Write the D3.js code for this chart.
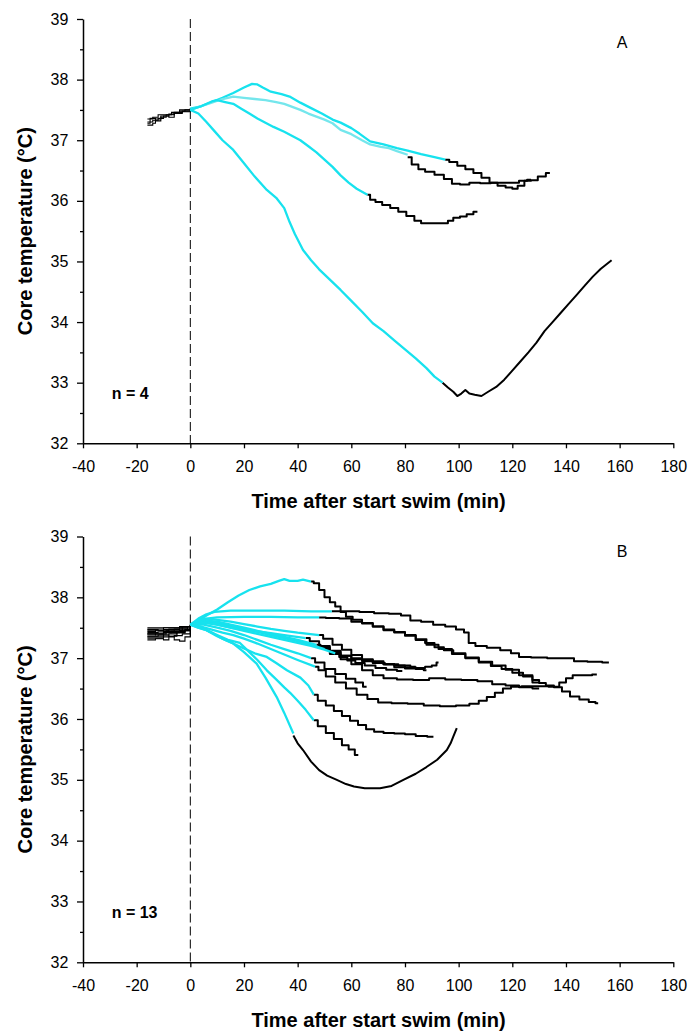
<!DOCTYPE html>
<html>
<head>
<meta charset="utf-8">
<script src="https://cdn.jsdelivr.net/npm/d3@7"></script>
<style>
  html, body { margin: 0; padding: 0; background: #fff; }
  svg { display: block; }
  text { font-family: Arial, "Liberation Sans", sans-serif; fill: #000; }
</style>
</head>
<body>
<script>
// ---------------- DATA ----------------
const xTicks = [-40, -20, 0, 20, 40, 60, 80, 100, 120, 140, 160, 180];
const yTicks = [32, 33, 34, 35, 36, 37, 38, 39];
const yMinorTicks = [32.5, 33.5, 34.5, 35.5, 36.5, 37.5, 38.5];

// Panel A: pre-swim (black), swim (cyan), post-swim (black); [time min, core temp °C]
const A_pre = [
  [[-16,37.3],[-14,37.33],[-12,37.36],[-10,37.4],[-8,37.43],[-6,37.45],[-4,37.48],[-2,37.5],[0,37.52]],
  [[-16,37.25],[-14,37.28],[-13,37.35],[-11,37.38],[-9,37.42],[-6,37.44],[-3,37.48],[0,37.5]],
  [[-16,37.35],[-14,37.38],[-12,37.42],[-9,37.42],[-7,37.46],[-4,37.5],[-2,37.5],[0,37.53]],
  [[-16,37.28],[-15,37.36],[-13,37.32],[-11,37.4],[-8,37.38],[-6,37.46],[-3,37.47],[0,37.5]]
];
const A_swim = [
  [[0,37.52],[4,37.56],[8,37.63],[12,37.7],[16,37.78],[20,37.87],[23,37.93],[25,37.92],[27,37.87],[30,37.8],[34,37.76],[37,37.72],[41,37.62],[45,37.53],[49,37.44],[53,37.34],[56,37.29],[60,37.2],[63,37.11],[67,36.98],[72,36.93],[77,36.87],[81,36.83],[86,36.77],[91,36.72],[95,36.68]],
  [[0,37.5],[4,37.56],[8,37.62],[12,37.68],[16,37.72],[20,37.7],[24,37.68],[28,37.66],[32,37.63],[35,37.6],[38,37.55],[41,37.5],[44,37.44],[47,37.39],[50,37.34],[53,37.28],[56,37.17],[60,37.1],[64,37.0],[67,36.93],[71,36.89],[74,36.87],[77,36.82],[81,36.76]],
  [[0,37.5],[4,37.56],[8,37.64],[10,37.66],[13,37.63],[16,37.6],[19,37.52],[22,37.44],[25,37.36],[28,37.29],[31,37.22],[35,37.14],[38,37.07],[41,37.0],[44,36.9],[47,36.8],[50,36.68],[53,36.56],[56,36.42],[59,36.3],[62,36.2],[66,36.1]],
  [[0,37.5],[3,37.44],[6,37.3],[9,37.15],[12,37.0],[16,36.84],[20,36.62],[24,36.4],[28.5,36.18],[32,36.05],[35,35.88],[37,35.65],[39,35.45],[42,35.19],[45,35.02],[48,34.87],[52,34.7],[56,34.53],[60,34.35],[64,34.17],[68,33.98],[72,33.85],[76,33.7],[80,33.55],[84,33.4],[88,33.24],[91,33.1],[94,33.0]]
];
const A_post = [
  [[95,36.68],[98,36.64],[101,36.58],[104,36.52],[107,36.46],[110,36.38],[113,36.3],[116,36.25],[119,36.22],[121,36.2],[123,36.25],[126,36.33],[128,36.34],[131,36.4],[134,36.46]],
  [[81,36.72],[84,36.6],[86,36.52],[89,36.48],[93,36.43],[96,36.36],[99,36.28],[102,36.27],[106,36.3],[110,36.29],[114,36.3],[118,36.3],[121,36.3],[124,36.33],[127,36.35]],
  [[66,36.1],[68,36.02],[70,35.98],[73,35.93],[76,35.88],[79,35.82],[82,35.75],[85,35.67],[87,35.63],[90,35.63],[95,35.63],[97,35.67],[99,35.72],[102,35.74],[104,35.78],[107,35.82]],
  [[94,33.0],[96,32.92],[98,32.85],[99.5,32.78],[101,32.82],[102.5,32.88],[104,32.82],[106,32.8],[108.5,32.78],[111,32.85],[114,32.93],[117,33.05],[120,33.2],[123,33.35],[126,33.5],[129,33.66],[132,33.85],[135,34.0],[138,34.15],[141,34.3],[144,34.45],[147,34.6],[150,34.75],[153,34.88],[155,34.95],[157,35.02]]
];
const A_swimColor = ["#17e2ee", "#74e6ec", "#17e2ee", "#17e2ee"];
const A_postStepped = [true, true, true, false];

// Panel B
const B_pre = [
  [[-16,37.45],[-13,37.45],[-10,37.47],[-7,37.47],[-4,37.5],[-1,37.52],[0,37.55]],
  [[-16,37.42],[-12,37.43],[-9,37.45],[-6,37.45],[-3,37.48],[0,37.53]],
  [[-16,37.48],[-13,37.48],[-10,37.5],[-6,37.5],[-3,37.52],[0,37.55]],
  [[-16,37.38],[-13,37.4],[-10,37.42],[-7,37.42],[-4,37.45],[0,37.5]],
  [[-16,37.35],[-13,37.35],[-10,37.38],[-8,37.36],[-5,37.42],[-2,37.45],[0,37.5]],
  [[-16,37.3],[-13,37.32],[-10,37.3],[-8,37.36],[-6,37.3],[-4,37.28],[-2,37.35],[0,37.48]],
  [[-16,37.4],[-12,37.4],[-9,37.44],[-5,37.44],[-2,37.47],[0,37.52]],
  [[-16,37.5],[-12,37.5],[-8,37.5],[-4,37.52],[0,37.55]],
  [[-16,37.33],[-13,37.33],[-10,37.35],[-6,37.37],[-3,37.4],[0,37.5]],
  [[-16,37.44],[-13,37.46],[-10,37.44],[-6,37.48],[-3,37.5],[0,37.55]],
  [[-16,37.36],[-12,37.38],[-8,37.4],[-5,37.42],[-2,37.46],[0,37.52]],
  [[-16,37.47],[-12,37.45],[-8,37.48],[-4,37.48],[-1,37.52],[0,37.55]],
  [[-16,37.4],[-13,37.38],[-10,37.42],[-7,37.44],[-4,37.46],[0,37.52]]
];
const B_swim = [
  [[0,37.55],[3,37.62],[6,37.7],[10,37.8],[14,37.92],[18,38.03],[22,38.12],[26,38.18],[30,38.22],[33,38.27],[35,38.3],[37,38.27],[40,38.27],[42,38.29],[45,38.26]],
  [[0,37.55],[3,37.65],[6,37.72],[9,37.76],[15,37.78],[25,37.78],[35,37.78],[45,37.77],[52.7,37.77]],
  [[0,37.55],[3,37.6],[6,37.65],[10,37.67],[20,37.68],[30,37.68],[40,37.67],[48,37.67]],
  [[0,37.55],[5,37.6],[10,37.58],[15,37.53],[20,37.48],[25,37.43],[30,37.38],[35,37.33],[40,37.28],[45,37.22],[50,37.15]],
  [[0,37.55],[5,37.62],[10,37.6],[15,37.55],[20,37.5],[25,37.45],[30,37.4],[35,37.35],[40,37.3],[47,37.22]],
  [[0,37.55],[5,37.65],[10,37.63],[15,37.6],[20,37.56],[25,37.52],[30,37.48],[35,37.45],[40,37.42],[48,37.38]],
  [[0,37.55],[5,37.6],[10,37.55],[15,37.5],[20,37.47],[25,37.44],[30,37.41],[35,37.38],[43,37.33]],
  [[0,37.55],[5,37.58],[10,37.55],[15,37.5],[20,37.45],[25,37.4],[30,37.35],[35,37.3],[40,37.25],[45,37.2],[50,37.14],[54,37.08]],
  [[0,37.55],[5,37.55],[10,37.5],[15,37.45],[20,37.38],[25,37.3],[30,37.22],[35,37.15],[40,37.08],[45,37.0]],
  [[0,37.55],[4,37.52],[8,37.47],[12,37.42],[16,37.38],[20,37.32],[25,37.24],[30,37.15],[35,37.06],[40,36.97],[46.5,36.86]],
  [[0,37.55],[3.6,37.52],[8,37.42],[12,37.32],[16,37.24],[20,37.16],[24,37.08],[28.5,37.02],[32,36.92],[36,36.8],[41,36.68],[44,36.55],[46,36.4]],
  [[0,37.55],[3,37.5],[6,37.46],[10,37.38],[14,37.3],[18.5,37.25],[22,37.1],[25,36.97],[28.5,36.8],[32,36.65],[35,36.52],[37.2,36.43],[40,36.3],[43,36.15],[46,35.98]],
  [[0,37.55],[3,37.5],[6,37.46],[10,37.36],[13,37.3],[16,37.24],[20,37.1],[24.7,36.91],[28,36.68],[32.2,36.36],[35,36.1],[38.4,35.76]]
];
const B_post = [
  [[45,38.26],[47,38.23],[49,38.12],[51,38.0],[53,37.92],[55,37.85],[57,37.76],[59,37.68],[62,37.63],[66,37.58],[70,37.52],[74,37.46],[78,37.43],[82,37.38],[86,37.3],[89,37.25],[93,37.18],[96,37.13],[100,37.08],[105,37.0],[110,36.93],[114,36.87],[118,36.82],[122,36.76],[126,36.7],[129,36.64],[131,36.59],[134,36.55],[137,36.52],[140,36.45],[143,36.37],[147,36.32],[150,36.28],[152,36.26]],
  [[52.7,37.77],[60,37.77],[66,37.76],[71,37.74],[77,37.73],[80,37.7],[84,37.62],[88,37.6],[93,37.55],[97,37.52],[101,37.47],[103,37.42],[104.5,37.25],[108,37.2],[113,37.17],[118,37.13],[121,37.08],[124,37.02],[130,37.01],[136,37.0],[141,37.0],[145,36.95],[151,36.94],[156,36.93]],
  [[48,37.67],[53,37.66],[58,37.65],[62,37.6],[66,37.57],[70,37.52],[74,37.47],[78,37.42],[82,37.37],[86,37.31],[90,37.22],[95,37.15],[100,37.07],[105,37.01],[110,36.94],[115,36.88],[120,36.81],[125,36.72],[130,36.6]],
  [[50,37.15],[54,37.07],[58,36.98],[62,36.9],[66,36.8],[70,36.72],[74,36.67],[80,36.65],[86,36.64],[92,36.67],[98,36.65],[104,36.64],[110,36.62],[115,36.57],[120,36.55],[125,36.52],[130,36.5]],
  [[47,37.22],[50,37.17],[54,37.1],[58,37.04],[62,37.0],[66,36.97],[70,36.95],[74,36.9],[78,36.85],[82,36.83],[86,36.84],[89,36.86],[91,36.88],[92.5,36.93]],
  [[48,37.38],[51,37.32],[55,37.22],[58,37.14],[62,37.05],[66,36.98],[70,36.93],[74,36.9],[78,36.88],[82,36.85],[86,36.82],[88,36.8]],
  [[43,37.33],[46,37.28],[50,37.2],[54,37.12],[58,37.04],[62,36.98],[66,36.95],[70,36.92],[75,36.9],[80,36.88],[84,36.86]],
  [[54,37.08],[57,37.02],[60,36.96],[63,36.92],[67,36.88],[71,36.84],[75,36.81],[79,36.79]],
  [[45,37.0],[48,36.93],[52,36.82],[56,36.74],[60,36.66],[63,36.6],[65.7,36.53]],
  [[46.5,36.86],[49,36.8],[52,36.7],[56,36.6],[60,36.5],[64,36.4],[68,36.33],[72,36.27],[78,36.26],[84,36.25],[90,36.22],[96,36.21],[102,36.22],[106,36.25],[109,36.3],[112,36.36],[115,36.43],[118,36.5],[121,36.53],[126,36.54],[131,36.54],[136,36.53],[139,36.6],[141,36.67],[144,36.72],[148,36.72],[151.5,36.73]],
  [[46,36.4],[49,36.3],[52,36.22],[55,36.13],[58,36.05],[61,35.97],[64,35.9],[67,35.83],[70,35.79],[74,35.77],[78,35.76],[82,35.75],[86,35.72],[90.6,35.71]],
  [[46,35.98],[49,35.88],[52,35.77],[55,35.67],[58,35.57],[60,35.5],[62.6,35.41]],
  [[38.4,35.73],[40,35.6],[42,35.49],[45,35.3],[48,35.16],[51,35.07],[54.6,35.0],[58,34.93],[61,34.89],[65,34.86],[70.7,34.86],[75,34.9],[79.4,35.0],[84,35.1],[88,35.21],[92,35.33],[95.6,35.49],[97,35.6],[98,35.71],[99.3,35.85]]
];
const B_swimColor = B_swim.map(() => "#17e2ee");
const B_postStepped = B_post.map((s, i) => i !== 12);

// ---------------- DRAW ----------------
const W = 691, H = 1033;
const svg = d3.select("body").append("svg").attr("width", W).attr("height", H);

function drawPanel(cfg) {
  const x = d3.scaleLinear().domain([-40, 180]).range([83, 673.3]);
  const y = d3.scaleLinear().domain([32, 39]).range([cfg.bottom, cfg.top]);
  const g = svg.append("g");

  // dashed line at swim start
  g.append("line")
    .attr("x1", x(0)).attr("x2", x(0))
    .attr("y1", y(39)).attr("y2", y(32))
    .attr("stroke", "#000").attr("stroke-width", 1)
    .attr("stroke-dasharray", "9,4");

  const line = d3.line().x(d => x(d[0])).y(d => y(d[1]));
  const stepLine = d3.line().x(d => x(d[0])).y(d => y(d[1])).curve(d3.curveStepAfter);
  const midStep = d3.line().x(d => x(d[0])).y(d => y(d[1])).curve(d3.curveStep);

  cfg.pre.forEach(s => g.append("path").attr("d", stepLine(s))
    .attr("fill", "none").attr("stroke", "#000").attr("stroke-width", 1.1));
  cfg.post.forEach((s, i) => g.append("path").attr("d", (cfg.stepped[i] ? midStep : line)(s))
    .attr("fill", "none").attr("stroke", "#000").attr("stroke-width", 2)
    .attr("stroke-linejoin", "round"));
  cfg.swim.forEach((s, i) => g.append("path").attr("d", line(s))
    .attr("fill", "none").attr("stroke", cfg.colors[i]).attr("stroke-width", 2.3)
    .attr("stroke-linejoin", "round"));

  // axes
  const fmt = d => String(d);
  const ax = g.append("g").attr("transform", `translate(0,${cfg.bottom})`)
    .call(d3.axisBottom(x).tickValues(xTicks).tickFormat(fmt).tickSize(5).tickPadding(12.6).tickSizeOuter(0));
  const ay = g.append("g").attr("transform", `translate(83,0)`)
    .call(d3.axisLeft(y).tickValues(yTicks).tickFormat(fmt).tickSize(6).tickPadding(8.7).tickSizeOuter(0));
  const aym = g.append("g").attr("transform", `translate(83,0)`)
    .call(d3.axisLeft(y).tickValues(yMinorTicks).tickSize(3).tickFormat("").tickSizeOuter(0));
  [ax, ay, aym].forEach(a => {
    a.selectAll("path.domain").attr("stroke", "#000").attr("stroke-width", 1.5);
    a.selectAll(".tick line").attr("stroke", "#000").attr("stroke-width", 1.3);
    a.selectAll("text").style("font-size", "16px").style("font-family", "Arial, 'Liberation Sans', sans-serif").attr("fill", "#000");
  });
  aym.select("path.domain").remove();

  // titles
  g.append("text")
    .attr("transform", `translate(32,${(cfg.top + cfg.bottom) / 2}) rotate(-90)`)
    .attr("text-anchor", "middle").style("font-size", "20px").style("font-weight", "bold")
    .text("Core temperature (°C)");
  g.append("text")
    .attr("x", 378.5).attr("y", cfg.bottom + 64.7)
    .attr("text-anchor", "middle").style("font-size", "20px").style("font-weight", "bold")
    .text("Time after start swim (min)");
  g.append("text")
    .attr("x", 616.7).attr("y", cfg.letterY)
    .style("font-size", "16px").text(cfg.letter);
  g.append("text")
    .attr("x", 111.7).attr("y", cfg.bottom - 44.8)
    .style("font-size", "16px").style("font-weight", "bold").text(cfg.n);
}

drawPanel({ top: 19, bottom: 443.3, pre: A_pre, swim: A_swim, post: A_post, colors: A_swimColor, stepped: A_postStepped, letter: "A", letterY: 47.7, n: "n = 4" });
drawPanel({ top: 536.5, bottom: 962.3, pre: B_pre, swim: B_swim, post: B_post, colors: B_swimColor, stepped: B_postStepped, letter: "B", letterY: 557.3, n: "n = 13" });
</script>
</body>
</html>
